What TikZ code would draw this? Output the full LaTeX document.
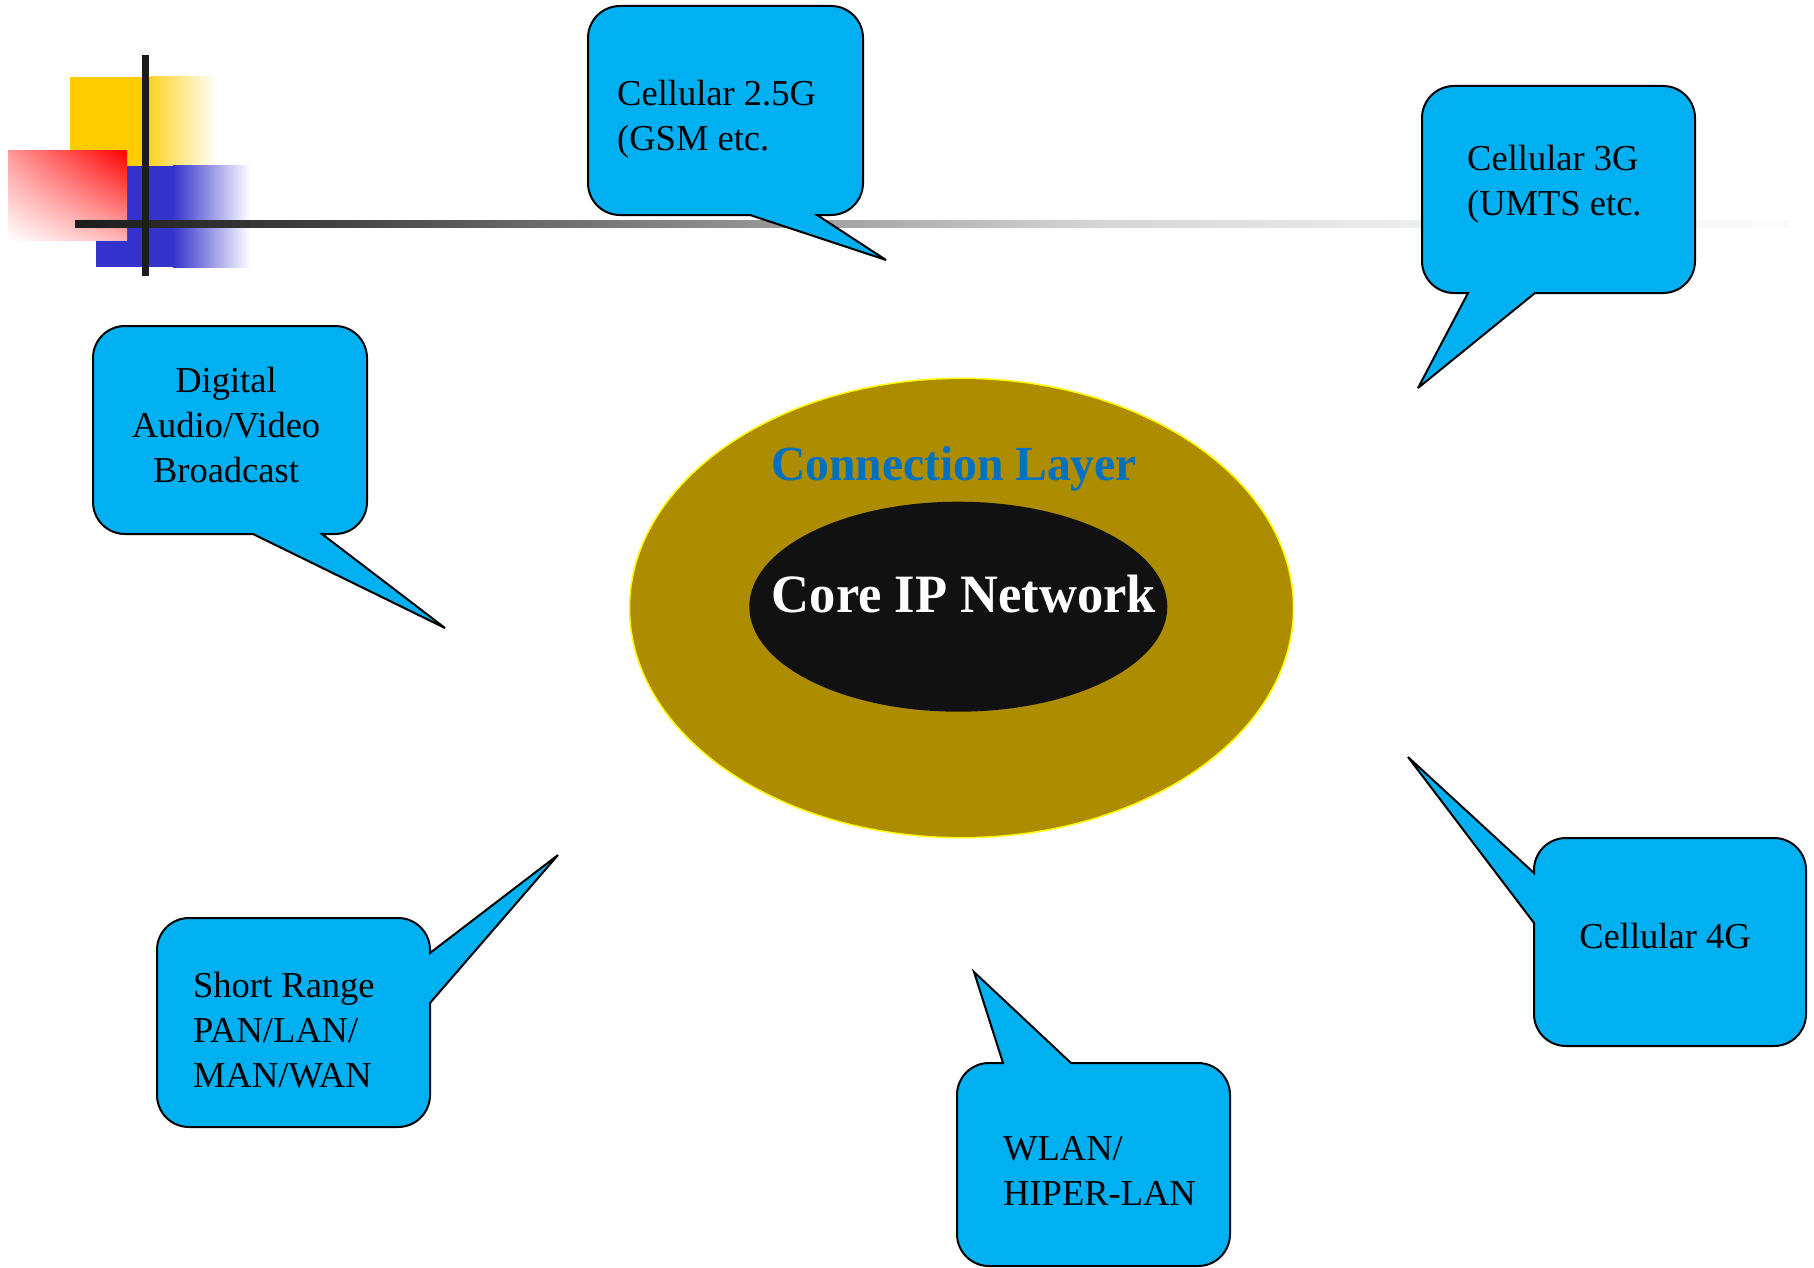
\documentclass[tikz,border=0pt]{standalone}
\usepackage{fontspec}
\setmainfont{Liberation Serif}
\usepackage{graphicx}
\usetikzlibrary{shadings}

\definecolor{bubblefill}{HTML}{00B0F0}
\definecolor{layergold}{HTML}{AD8C00}
\definecolor{layeredge}{HTML}{FFFF00}
\definecolor{coreblack}{HTML}{111111}
\definecolor{layerblue}{HTML}{0070C0}
\definecolor{decoyellow}{HTML}{FFCC00}
\definecolor{decoblue}{HTML}{3333CC}
\definecolor{decored}{HTML}{FF0000}
\definecolor{barblack}{HTML}{1C1C1C}

% grey bar fading out to the right
\pgfdeclarehorizontalshading{barfade}{100bp}{%
  gray(0bp)=(0.11); gray(25bp)=(0.11); gray(31.6bp)=(0.24);
  gray(46.4bp)=(0.62); gray(54.9bp)=(0.84); gray(64.2bp)=(0.93);
  gray(75bp)=(0.985); gray(100bp)=(0.985)}

% speech bubbles: rounded box (L,T,R,B) with a wedge on one side
% pointer on the bottom edge: base x1..x2, tip (tx,ty)
\newcommand{\bubbleBottom}[8]{%
  \path[bubble] ({#1+32},#2) -- ({#3-32},#2)
    .. controls ({#3-14.3},#2) and (#3,{#2+14.3}) .. (#3,{#2+32})
    -- (#3,{#4-32})
    .. controls (#3,{#4-14.3}) and ({#3-14.3},#4) .. ({#3-32},#4)
    -- (#6,#4) -- (#7,#8) -- (#5,#4)
    -- ({#1+32},#4)
    .. controls ({#1+14.3},#4) and (#1,{#4-14.3}) .. (#1,{#4-32})
    -- (#1,{#2+32})
    .. controls (#1,{#2+14.3}) and ({#1+14.3},#2) .. ({#1+32},#2) -- cycle;}
% pointer on the top edge
\newcommand{\bubbleTop}[8]{%
  \path[bubble] ({#1+32},#2) -- (#5,#2) -- (#7,#8) -- (#6,#2) -- ({#3-32},#2)
    .. controls ({#3-14.3},#2) and (#3,{#2+14.3}) .. (#3,{#2+32})
    -- (#3,{#4-32})
    .. controls (#3,{#4-14.3}) and ({#3-14.3},#4) .. ({#3-32},#4)
    -- ({#1+32},#4)
    .. controls ({#1+14.3},#4) and (#1,{#4-14.3}) .. (#1,{#4-32})
    -- (#1,{#2+32})
    .. controls (#1,{#2+14.3}) and ({#1+14.3},#2) .. ({#1+32},#2) -- cycle;}
% pointer on the left edge: base y1..y2
\newcommand{\bubbleLeft}[8]{%
  \path[bubble] ({#1+32},#2) -- ({#3-32},#2)
    .. controls ({#3-14.3},#2) and (#3,{#2+14.3}) .. (#3,{#2+32})
    -- (#3,{#4-32})
    .. controls (#3,{#4-14.3}) and ({#3-14.3},#4) .. ({#3-32},#4)
    -- ({#1+32},#4)
    .. controls ({#1+14.3},#4) and (#1,{#4-14.3}) .. (#1,{#4-32})
    -- (#1,#6) -- (#7,#8) -- (#1,#5)
    -- (#1,{#2+32})
    .. controls (#1,{#2+14.3}) and ({#1+14.3},#2) .. ({#1+32},#2) -- cycle;}
% pointer on the right edge
\newcommand{\bubbleRight}[8]{%
  \path[bubble] ({#1+32},#2) -- ({#3-32},#2)
    .. controls ({#3-14.3},#2) and (#3,{#2+14.3}) .. (#3,{#2+32})
    -- (#3,#5) -- (#7,#8) -- (#3,#6)
    -- (#3,{#4-32})
    .. controls (#3,{#4-14.3}) and ({#3-14.3},#4) .. ({#3-32},#4)
    -- ({#1+32},#4)
    .. controls ({#1+14.3},#4) and (#1,{#4-14.3}) .. (#1,{#4-32})
    -- (#1,{#2+32})
    .. controls (#1,{#2+14.3}) and ({#1+14.3},#2) .. ({#1+32},#2) -- cycle;}

\begin{document}
\begin{tikzpicture}[x=1pt,y=-1pt,
  bubble/.style={fill=bubblefill, draw=black, line width=2pt, miter limit=4},
  bubbletext/.style={inner sep=0pt, text=black, font=\fontsize{36.5}{45}\selectfont}]
\useasboundingbox (0,0) rectangle (1814,1268);
\fill[white] (0,0) rectangle (1814,1268);

% corner ornament
\fill[decoyellow] (70,77) rectangle (150,166);
\shade[left color=decoyellow!85, right color=white] (150,77) rectangle (217,166);
\fill[decoblue] (96,166) rectangle (173,267);
\shade[left color=decoblue, right color=white] (173,166) rectangle (250,267);
\shade[upper right=decored, upper left=decored!40, lower right=decored!30,
       lower left=white] (8,151) rectangle (127,240);
\shade[shading=barfade] (75,220.8) rectangle (1790,227.6);
\fill[barblack] (141.5,55) rectangle (148.5,276);

% central layers
\draw[fill=layergold, draw=layeredge, line width=1.5pt]
  (961.5,608) ellipse [x radius=332pt, y radius=229.7pt];
\fill[coreblack] (958.3,606.7) ellipse [x radius=209pt, y radius=105pt];
\node[anchor=base, inner sep=0pt, text=layerblue,
      font=\bfseries\fontsize{49}{55}\selectfont] (layer) at (954,480.7)
  {\scalebox{0.97}[1]{Connection Layer}};
\node[anchor=base, inner sep=0pt, text=white,
      font=\bfseries\fontsize{54}{60}\selectfont] (core) at (964,612.3)
  {\scalebox{0.973}[1]{Core IP Network}};

% access networks
\bubbleBottom{588}{6}{863}{215}{750}{817}{886}{260}
\node[bubbletext, anchor=base west] (c25) at (617,106)
  {\begin{tabular}[t]{@{}l@{}}Cellular 2.5G\\(GSM etc.\end{tabular}};

\bubbleBottom{1422}{86}{1695}{293}{1468}{1535}{1418}{388}
\node[bubbletext, anchor=base west] (c3g) at (1467,171)
  {\begin{tabular}[t]{@{}l@{}}Cellular 3G\\(UMTS etc.\end{tabular}};

\bubbleBottom{93}{326}{367}{534}{253}{322}{445}{628}
\node[bubbletext, anchor=base] (dav) at (226,392)
  {\begin{tabular}[t]{@{}c@{}}Digital\\Audio/Video\\Broadcast\end{tabular}};

\bubbleRight{157}{918}{430}{1127}{953}{1003}{558}{855}
\node[bubbletext, anchor=base west] (srn) at (193,997)
  {\begin{tabular}[t]{@{}l@{}}Short Range\\PAN/LAN/\\MAN/WAN\end{tabular}};

\bubbleTop{957}{1063}{1230}{1266}{1003}{1071}{974}{972}
\node[bubbletext, anchor=base west] (wlan) at (1003,1160)
  {\begin{tabular}[t]{@{}l@{}}WLAN/\\HIPER-LAN\end{tabular}};

\bubbleLeft{1534}{838}{1806}{1046}{873}{923}{1408}{757}
\node[bubbletext, anchor=base] (c4g) at (1665,948) {Cellular 4G};
\end{tikzpicture}
\end{document}
